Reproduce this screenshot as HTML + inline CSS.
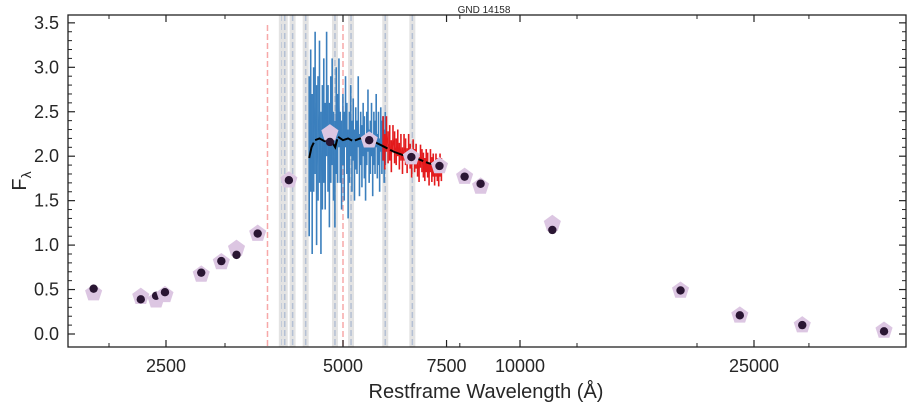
<!DOCTYPE html>
<html><head><meta charset="utf-8"><style>
body{margin:0;background:#fff;}
svg text{font-family:"Liberation Sans",sans-serif;fill:#262626;}
</style></head><body>
<svg id="chart" width="912" height="411" xmlns="http://www.w3.org/2000/svg">
<text x="484" y="13" font-size="10" text-anchor="middle">GND 14158</text>
<g id="bands"></g><g id="spec"></g><g id="phot"></g><g id="axes"></g>
<text x="486" y="398" font-size="20" text-anchor="middle">Restframe Wavelength (Å)</text>
<text transform="translate(26,181) rotate(-90)" font-size="20" text-anchor="middle">F<tspan font-size="14" dy="5">λ</tspan></text>
</svg>
<script>
const xTicks=[2500,5000,7500,10000,25000];
const xTickLabels=["2500","5000","7500","10000","25000"];
const xMinor=[2000,3150,7900,12500,20000,31000];
const yTicks=[0,0.5,1,1.5,2,2.5,3,3.5];
const yTickLabels=["0.0","0.5","1.0","1.5","2.0","2.5","3.0","3.5"];
const photWave=[1883,2265,2405,2490,2870,3105,3295,3580,4045,4750,5540,6535,7295,8050,8570,11350,18750,23650,30200,41600];
const photObs=[0.46,0.42,0.38,0.44,0.67,0.81,0.96,1.13,1.73,2.26,2.18,1.99,1.89,1.77,1.66,1.24,0.49,0.21,0.10,0.04];
const photModel=[0.51,0.39,0.43,0.47,0.69,0.82,0.89,1.13,1.73,2.16,2.18,1.99,1.89,1.77,1.69,1.17,0.49,0.21,0.10,0.03];
const redLines=[3720,5000];
const maskLines=[3935,3980,4105,4320,4845,5160,5900,6560];
const blueStart=4380, blueEnd=5900;
const blueFlux=[2.0,2.4,1.8,2.3,2.6,1.9,2.2,2.5,1.7,2.1,2.4,2.0,2.7,2.2,1.9,2.3,2.5,2.0,1.8,2.4,2.2,2.6,2.1,1.9,2.3,2.0,2.5,2.2,1.8,2.1,2.4,2.0,2.3,1.9,2.2,2.1,2.5,1.9,2.2,2.0,2.3,2.1,1.8,2.2,2.4,2.0,2.1,2.3,1.9,2.2,2.1,2.4,2.0,2.2,1.9,2.3,2.1,2.2,2.0,2.2];
const blueErr=[0.9,0.8,0.9,0.7,0.8,0.9,0.7,0.8,0.8,0.7,0.7,0.6,0.7,0.6,0.7,0.6,0.6,0.5,0.6,0.6,0.5,0.5,0.4,0.5,0.4,0.5,0.4,0.4,0.5,0.4,0.4,0.4,0.35,0.4,0.35,0.3,0.4,0.35,0.3,0.35,0.3,0.35,0.3,0.3,0.35,0.3,0.3,0.3,0.35,0.3,0.3,0.3,0.25,0.3,0.3,0.25,0.3,0.25,0.3,0.3];
const redStart=5850, redEnd=7350;
const redFlux=[2.2,2.05,2.25,2.1,2.15,2.0,2.2,2.1,2.05,2.15,2.0,2.1,1.95,2.1,2.05,1.95,2.1,2.0,1.9,2.05,1.95,2.0,1.9,1.85,2.0,1.95,1.9,1.85,1.95,1.9,1.8,1.95,1.85,1.9,1.8,1.9,1.85,1.8,1.9,1.85];
const redErr=[0.25,0.2,0.2,0.18,0.2,0.18,0.15,0.18,0.15,0.15,0.15,0.15,0.15,0.15,0.15,0.14,0.15,0.14,0.14,0.14,0.13,0.14,0.13,0.14,0.13,0.13,0.14,0.13,0.13,0.14,0.13,0.13,0.14,0.13,0.13,0.13,0.13,0.14,0.13,0.13];
const modelWave=[4380,4420,4480,4560,4650,4750,4850,4900,5000,5100,5200,5350,5500,5700,5900,6100,6400,6700,7000,7300];
const modelFlux=[1.98,2.1,2.18,2.2,2.17,2.2,2.1,2.22,2.18,2.2,2.17,2.2,2.19,2.15,2.1,2.05,2.0,1.97,1.92,1.9];

const L=68,R=906,T=15,B=347;
const X=w=>343+588*Math.log10(w/5000);
const Y=f=>334-88.9*f;
const NS="http://www.w3.org/2000/svg";
function mk(par,tag,at){const e=document.createElementNS(NS,tag);for(const k in at)e.setAttribute(k,at[k]);document.getElementById(par).appendChild(e);return e;}

maskLines.forEach(w=>{
 const b=mk("bands","rect",{x:X(w)-3,y:T,width:6,height:B-T,fill:"#e3e3e3"});
 
 
 const l=mk("bands","line",{x1:X(w),x2:X(w),y1:T,y2:B,stroke:"#b4c0d4","stroke-width":1.5,"stroke-dasharray":"6,3"});
 
 
});
redLines.forEach(w=>{
 const l=mk("bands","line",{x1:X(w),x2:X(w),y1:25,y2:B,stroke:"#f7a8a8","stroke-width":1.5,"stroke-dasharray":"6,3"});
 
 
});
function spectrum(flux,err,s,e,col,name){
 const n=flux.length;let pts=[];
 flux.forEach((f,i)=>{const w=s+(e-s)*i/(n-1);const x=X(w);pts.push(x+","+Y(f));
  const b=mk("spec","line",{x1:x,x2:x,y1:Y(f-err[i]),y2:Y(f+err[i]),stroke:col,"stroke-width":1.6});
  
  
 });
 const p=mk("spec","polyline",{points:pts.join(" "),fill:"none",stroke:col,"stroke-width":1});
 
 
}
spectrum(blueFlux,blueErr,blueStart,blueEnd,"#3b7fbd","blue-grism-spectrum");
spectrum(redFlux,redErr,redStart,redEnd,"#e31a1c","red-grism-spectrum");
const m=mk("spec","polyline",{points:modelWave.map((w,i)=>X(w)+","+Y(modelFlux[i])).join(" "),fill:"none",stroke:"#000","stroke-width":2,"stroke-dasharray":"16,3"});



photWave.forEach((w,i)=>{
 const x=X(w),y=Y(photObs[i]);let pts=[];
 for(let k=0;k<5;k++){const a=-Math.PI/2+k*2*Math.PI/5;pts.push((x+9*Math.cos(a))+","+(y+9*Math.sin(a)));}
 const p=mk("phot","polygon",{points:pts.join(" "),fill:"#dcc6e2"});
 
 
 const c=mk("phot","circle",{cx:x,cy:Y(photModel[i]),r:4.2,fill:"#2a1633"});
 
 
});

const fr=mk("axes","rect",{x:L,y:T,width:R-L,height:B-T,fill:"none",stroke:"#222","stroke-width":1.3});


xTicks.forEach((w,i)=>{const x=X(w);
 mk("axes","line",{x1:x,x2:x,y1:B,y2:B-7,stroke:"#222","stroke-width":1.2});
 mk("axes","line",{x1:x,x2:x,y1:T,y2:T+7,stroke:"#222","stroke-width":1.2});
 const t=mk("axes","text",{x:x,y:B+25,"font-size":18,"text-anchor":"middle"});t.textContent=xTickLabels[i];
 
 
});
xMinor.forEach(w=>{const x=X(w);
 mk("axes","line",{x1:x,x2:x,y1:B,y2:B-4,stroke:"#222"});
 mk("axes","line",{x1:x,x2:x,y1:T,y2:T+4,stroke:"#222"});
});
yTicks.forEach((f,i)=>{const y=Y(f);
 mk("axes","line",{x1:L,x2:L+7,y1:y,y2:y,stroke:"#222","stroke-width":1.2});
 mk("axes","line",{x1:R,x2:R-7,y1:y,y2:y,stroke:"#222","stroke-width":1.2});
 const t=mk("axes","text",{x:L-9,y:y+6,"font-size":18,"text-anchor":"end"});t.textContent=yTickLabels[i];
 
 
 for(let k=1;k<5;k++){const yy=Y(f+k*0.1);if(yy<T)break;
  mk("axes","line",{x1:L,x2:L+4,y1:yy,y2:yy,stroke:"#222"});
  mk("axes","line",{x1:R,x2:R-4,y1:yy,y2:yy,stroke:"#222"});}
});
</script>
</body></html>
